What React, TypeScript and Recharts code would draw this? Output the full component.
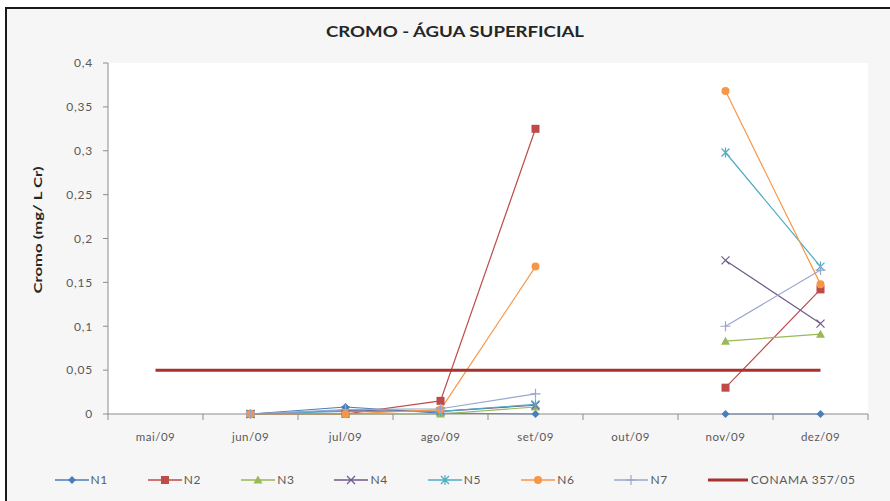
import React from 'react';
import { LineChart, Line, XAxis, YAxis, CartesianGrid } from 'recharts';

const months = ['mai/09', 'jun/09', 'jul/09', 'ago/09', 'set/09', 'out/09', 'nov/09', 'dez/09'];

// mg/L Cr per sampling point; null = no sample that month
const n1 = [null, 0, 0.008, 0.001, 0, null, 0, 0];
const n2 = [null, 0, 0, 0.015, 0.325, null, 0.03, 0.142];
const n3 = [null, 0, 0, 0, 0.008, null, 0.083, 0.091];
const n4 = [null, 0, 0.004, 0.003, 0.01, null, 0.175, 0.103];
const n5 = [null, 0, 0.003, 0.003, 0.011, null, 0.298, 0.168];
const n6 = [null, 0, 0, 0.005, 0.168, null, 0.368, 0.148];
const n7 = [null, 0, 0.005, 0.006, 0.023, null, 0.1, 0.164];
const conama = [0.05, 0.05, 0.05, 0.05, 0.05, 0.05, 0.05, 0.05];

const yTicks = [0, 0.05, 0.1, 0.15, 0.2, 0.25, 0.3, 0.35, 0.4];

const data = months.map((m, i) => ({
  month: m,
  N1: n1[i],
  N2: n2[i],
  N3: n3[i],
  N4: n4[i],
  N5: n5[i],
  N6: n6[i],
  N7: n7[i],
  CONAMA: conama[i],
}));

type Shape = 'diamond' | 'square' | 'triangle' | 'x' | 'star' | 'circle' | 'plus' | 'none';

const series: { key: string; color: string; shape: Shape }[] = [
  { key: 'N1', color: '#4a7ebb', shape: 'diamond' },
  { key: 'N2', color: '#be4b48', shape: 'square' },
  { key: 'N3', color: '#98b954', shape: 'triangle' },
  { key: 'N4', color: '#6f5a8c', shape: 'x' },
  { key: 'N5', color: '#4bacc6', shape: 'star' },
  { key: 'N6', color: '#f79646', shape: 'circle' },
  { key: 'N7', color: '#9aa6cc', shape: 'plus' },
];

const FONT = 'Lato, "Open Sans", sans-serif';
const BAND = 95;

const marker = (shape: Shape, color: string, cx: number, cy: number) => {
  switch (shape) {
    case 'diamond':
      return <path d={`M${cx},${cy - 4}L${cx + 4},${cy}L${cx},${cy + 4}L${cx - 4},${cy}Z`} fill={color} />;
    case 'square':
      return <rect x={cx - 4} y={cy - 4} width={8} height={8} fill={color} />;
    case 'triangle':
      return <path d={`M${cx},${cy - 4.5}L${cx + 4.5},${cy + 3.5}L${cx - 4.5},${cy + 3.5}Z`} fill={color} />;
    case 'x':
      return (
        <path d={`M${cx - 4},${cy - 4}L${cx + 4},${cy + 4}M${cx - 4},${cy + 4}L${cx + 4},${cy - 4}`} stroke={color} strokeWidth={1.2} />
      );
    case 'star':
      return (
        <path
          d={`M${cx - 4},${cy - 4}L${cx + 4},${cy + 4}M${cx - 4},${cy + 4}L${cx + 4},${cy - 4}M${cx},${cy - 5}L${cx},${cy + 5}`}
          stroke={color}
          strokeWidth={1.2}
        />
      );
    case 'circle':
      return <circle cx={cx} cy={cy} r={4} fill={color} />;
    case 'plus':
      return <path d={`M${cx - 5},${cy}L${cx + 5},${cy}M${cx},${cy - 5}L${cx},${cy + 5}`} stroke={color} strokeWidth={1.2} />;
    default:
      return null;
  }
};

const makeDot = (shape: Shape, color: string) => (props: any) => {
  const { cx, cy, index, value } = props;
  if (cx == null || cy == null || value == null) return <g key={index} />;
  return <g key={index}>{marker(shape, color, cx, cy)}</g>;
};

// category labels centred, tick marks on the category boundaries
const MonthTick = (props: any) => {
  const { x, y, payload, index } = props;
  const axisY = y - 10;
  return (
    <g>
      <line x1={x - BAND / 2} y1={axisY} x2={x - BAND / 2} y2={axisY + 6} stroke="#8c8c8c" />
      {index === months.length - 1 && (
        <line x1={x + BAND / 2} y1={axisY} x2={x + BAND / 2} y2={axisY + 6} stroke="#8c8c8c" />
      )}
      <text
        x={x}
        y={axisY + 27}
        textAnchor="middle"
        fill="#595959"
        fontSize={11.5}
        letterSpacing={0.5}
        fontFamily={FONT}
      >
        {payload.value}
      </text>
    </g>
  );
};

const LegendIcon = ({ color, shape, thick }: { color: string; shape: Shape; thick?: boolean }) => (
  <svg width={thick ? 40 : 34} height={12} style={{ display: 'block' }}>
    <line x1={0} y1={6} x2={thick ? 40 : 34} y2={6} stroke={color} strokeWidth={thick ? 3 : 1.5} />
    {marker(shape, color, 17, 6)}
  </svg>
);

const App: React.FC = () => {
  return (
    <div style={{ position: 'absolute', left: 0, top: 0, width: 890, height: 501, background: '#ffffff', overflow: 'hidden' }}>
      <div
        style={{
          position: 'absolute',
          left: 5,
          top: 7,
          width: 885,
          height: 494,
          borderTop: '2px solid #1a1a1a',
          borderLeft: '2px solid #1a1a1a',
          background: '#f6f6f6',
          boxSizing: 'border-box',
        }}
      />
      <LineChart
        width={890}
        height={501}
        data={data}
        margin={{ top: 63, right: 22, left: 58, bottom: 57 }}
        style={{ position: 'absolute', left: 0, top: 0 }}
      >
        <CartesianGrid fill="#ffffff" horizontal={false} vertical={false} />
        <XAxis
          dataKey="month"
          height={30}
          padding={{ left: BAND / 2, right: BAND / 2 }}
          stroke="#8c8c8c"
          tickLine={false}
          tickSize={6}
          tickMargin={4}
          tick={<MonthTick />}
          interval={0}
        />
        <YAxis
          width={50}
          domain={[0, 0.4]}
          ticks={yTicks}
          stroke="#8c8c8c"
          tickSize={5}
          tickMargin={10}
          tick={{ fill: '#595959', fontSize: 12, fontFamily: FONT, letterSpacing: 0.8 }}
          tickFormatter={(v: number) => String(v).replace('.', ',')}
        />
        {series.map((s) => (
          <Line
            key={s.key}
            type="linear"
            dataKey={s.key}
            stroke={s.color}
            strokeWidth={1.2}
            dot={makeDot(s.shape, s.color)}
            activeDot={false}
            connectNulls={false}
            isAnimationActive={false}
          />
        ))}
        <Line
          type="linear"
          dataKey="CONAMA"
          stroke="#a8302d"
          strokeWidth={3}
          dot={false}
          activeDot={false}
          isAnimationActive={false}
        />
      </LineChart>
      <div
        style={{
          position: 'absolute',
          left: 455,
          top: 31,
          transform: 'translate(-50%, -50%) scaleX(1.2)',
          whiteSpace: 'nowrap',
          fontFamily: FONT,
          fontWeight: 700,
          fontSize: 15.5,
          color: '#262626',
        }}
      >
        CROMO - ÁGUA SUPERFICIAL
      </div>
      <div
        style={{
          position: 'absolute',
          left: 37,
          top: 230,
          transform: 'translate(-50%, -50%) rotate(-90deg) scaleX(1.45)',
          whiteSpace: 'nowrap',
          fontFamily: FONT,
          fontWeight: 700,
          fontSize: 11.5,
          color: '#262626',
        }}
      >
        Cromo (mg/ L Cr)
      </div>
      <div
        style={{
          position: 'absolute',
          left: 0,
          width: 910,
          top: 472,
          display: 'flex',
          justifyContent: 'center',
          gap: 40,
          fontFamily: FONT,
          fontSize: 12,
          letterSpacing: 0.6,
          color: '#595959',
        }}
      >
        {series.map((s) => (
          <div key={s.key} style={{ display: 'flex', alignItems: 'center', gap: 2 }}>
            <LegendIcon color={s.color} shape={s.shape} />
            <span>{s.key}</span>
          </div>
        ))}
        <div style={{ display: 'flex', alignItems: 'center', gap: 3 }}>
          <LegendIcon color="#a8302d" shape="none" thick />
          <span>CONAMA 357/05</span>
        </div>
      </div>
    </div>
  );
};

export default App;
